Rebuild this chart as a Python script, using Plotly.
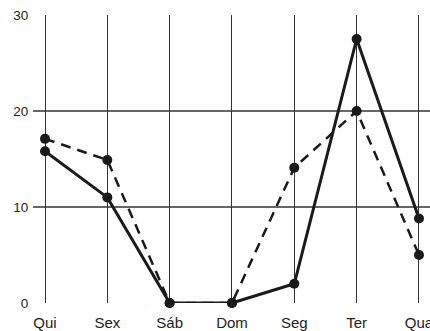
import plotly.graph_objects as go

days = ["Qui", "Sex", "Sáb", "Dom", "Seg", "Ter", "Qua"]
solid_values = [15.8, 11.0, 0, 0, 2.0, 27.5, 8.8]
dashed_values = [17.1, 14.9, 0, 0, 14.1, 20.0, 5.0]
y_ticks = [0, 10, 20, 30]
h_grid = [10, 20]

fig = go.Figure()
fig.add_trace(go.Scatter(x=days, y=dashed_values, mode="lines+markers",
                         line=dict(color="#1a1a1a", width=2.5, dash="10px,7px"),
                         marker=dict(size=10, color="#1a1a1a"), cliponaxis=False))
fig.add_trace(go.Scatter(x=days, y=solid_values, mode="lines+markers",
                         line=dict(color="#1a1a1a", width=3),
                         marker=dict(size=10, color="#1a1a1a"), cliponaxis=False))

for v in h_grid:
    fig.add_shape(type="line", xref="paper", x0=0, x1=1, yref="y", y0=v, y1=v,
                  line=dict(color="#333333", width=1.3), layer="below")

fig.update_layout(
    width=430, height=331,
    margin=dict(l=33, r=0, t=15, b=28),
    paper_bgcolor="white", plot_bgcolor="white",
    showlegend=False,
    font=dict(family="Liberation Sans, Arial, sans-serif", size=13, color="#222222"),
    xaxis=dict(type="category", range=[-0.1925, 6.177], showgrid=True, gridcolor="#333333",
               gridwidth=1.3, zeroline=False, showline=False, automargin=False,
               tickfont=dict(size=15),
               ticks="outside", ticklen=6, tickcolor="rgba(0,0,0,0)"),
    yaxis=dict(range=[0, 30], tickvals=y_ticks, showgrid=False, zeroline=False,
               showline=False, automargin=False, tickfont=dict(size=13.5),
               ticks="outside", ticklen=1, tickcolor="rgba(0,0,0,0)"),
)

fig.write_html("out.html", config={"displayModeBar": False},
               post_script="document.body.style.margin='0';document.body.style.padding='0';")
